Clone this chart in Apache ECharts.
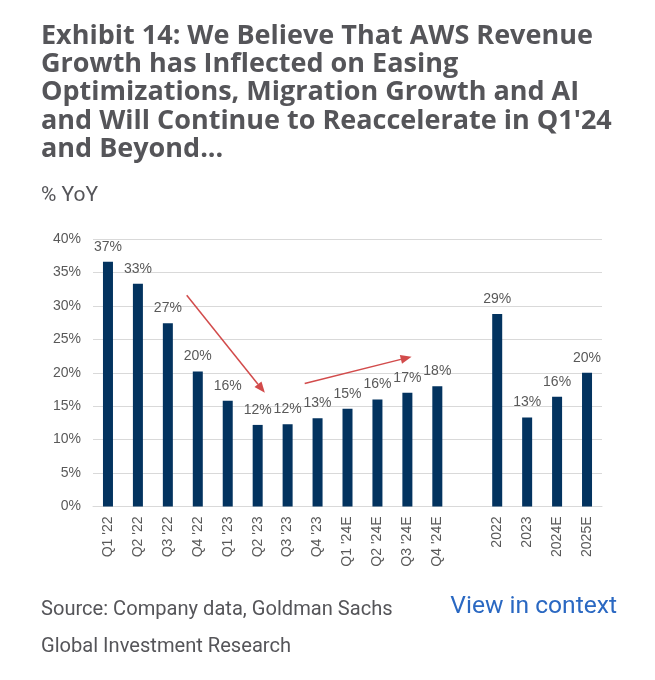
<!DOCTYPE html>
<html>
<head>
<meta charset="utf-8">
<script src="https://cdn.jsdelivr.net/npm/echarts@6/dist/echarts.min.js"></script>
<style>
html,body{margin:0;padding:0;background:#fff;}
#chart{width:655px;height:680px;}
</style>
</head>
<body>
<div id="chart"></div>
<script>
// ---- data ----
const categories = ["Q1 '22","Q2 '22","Q3 '22","Q4 '22","Q1 '23","Q2 '23","Q3 '23","Q4 '23","Q1 '24E","Q2 '24E","Q3 '24E","Q4 '24E","","2022","2023","2024E","2025E"];
const growth = [36.6,33.3,27.4,20.2,15.8,12.2,12.3,13.2,14.6,16.0,17.0,18.0,null,28.8,13.3,16.4,20.0];
const yTicks = [0,5,10,15,20,25,30,35,40];
// annotation arrows in data terms: [category index, % value]
const arrowDownFrom = [2.63, 31.6], arrowDownTo = [5.24, 17.0];
const arrowUpFrom = [6.57, 18.4], arrowUpTo = [10.14, 22.4];

const titleText = "Exhibit 14: We Believe That AWS Revenue\nGrowth has Inflected on Easing\nOptimizations, Migration Growth and AI\nand Will Continue to Reaccelerate in Q1'24\nand Beyond...";
const subText = "% YoY";
const sourceText = "Source: Company data, Goldman Sachs\nGlobal Investment Research";
const linkText = "View in context";

const chart = echarts.init(document.getElementById('chart'), null, {renderer:'canvas'});
const axisFont = {fontFamily:'Liberation Sans, Arial, sans-serif', fontSize:14, color:'#595959'};

chart.setOption({
  backgroundColor:'#fff',
  animation:false,
  title:[
    {text:titleText, left:41, top:22, padding:0, textStyle:{fontFamily:'Open Sans', fontWeight:'bold', fontSize:27, lineHeight:28.3, color:'#555559'}},
    {text:subText, left:41, top:183, padding:0, textStyle:{fontFamily:'Roboto', fontWeight:'normal', fontSize:21, lineHeight:26, color:'#555559'}},
    {text:sourceText, left:41, top:591.5, padding:0, textStyle:{fontFamily:'Roboto', fontWeight:'normal', fontSize:20.1, lineHeight:37, color:'#555559'}},
    {text:linkText, right:38, top:594, padding:0, textStyle:{fontFamily:'Roboto', fontWeight:'normal', fontSize:24.6, lineHeight:26, color:'#2a68c2'}}
  ],
  grid:{left:93, right:53, top:239, bottom:173.5, containLabel:false},
  xAxis:{
    type:'category', data:categories,
    axisLine:{show:true, lineStyle:{color:'#d9d9d9', width:1}},
    axisTick:{show:false},
    axisLabel:Object.assign({rotate:90, margin:10, interval:0}, axisFont)
  },
  yAxis:{
    type:'value', min:yTicks[0], max:yTicks[yTicks.length-1], interval:5,
    axisLine:{show:false}, axisTick:{show:false},
    splitLine:{lineStyle:{color:'#d9d9d9', width:1}},
    axisLabel:Object.assign({margin:12, formatter:v=>v+'%'}, axisFont)
  },
  series:[{
    type:'bar', data:growth, barWidth:10,
    itemStyle:{color:'#03335f'},
    label:{show:true, position:'top', distance:8, formatter:p=>Math.round(p.value)+'%',
      fontFamily:'Liberation Sans, Arial, sans-serif', fontSize:14, color:'#595959'}
  }]
});

function px(pt){
  const i0 = Math.floor(pt[0]), f = pt[0]-i0;
  const a = chart.convertToPixel({xAxisIndex:0,yAxisIndex:0},[i0, pt[1]]);
  const b = chart.convertToPixel({xAxisIndex:0,yAxisIndex:0},[i0+1, pt[1]]);
  return [a[0]+(b[0]-a[0])*f, a[1]];
}
function arrow(from,to){
  const p0 = px(from), p1 = px(to);
  const dx = p1[0]-p0[0], dy = p1[1]-p0[1], L = Math.hypot(dx,dy);
  const ux = dx/L, uy = dy/L, nx = -uy, ny = ux;
  const hl = 11, hw = 4.5;
  const bx = p1[0]-ux*hl, by = p1[1]-uy*hl;
  const col = '#d24b4b';
  return [
    {type:'line', shape:{x1:p0[0],y1:p0[1],x2:bx,y2:by}, style:{stroke:col, lineWidth:1.5}, z:10},
    {type:'polygon', shape:{points:[[p1[0],p1[1]],[bx+nx*hw,by+ny*hw],[bx-nx*hw,by-ny*hw]]}, style:{fill:col}, z:10}
  ];
}
chart.setOption({graphic:[].concat(arrow(arrowDownFrom,arrowDownTo), arrow(arrowUpFrom,arrowUpTo))});
</script>
</body>
</html>
